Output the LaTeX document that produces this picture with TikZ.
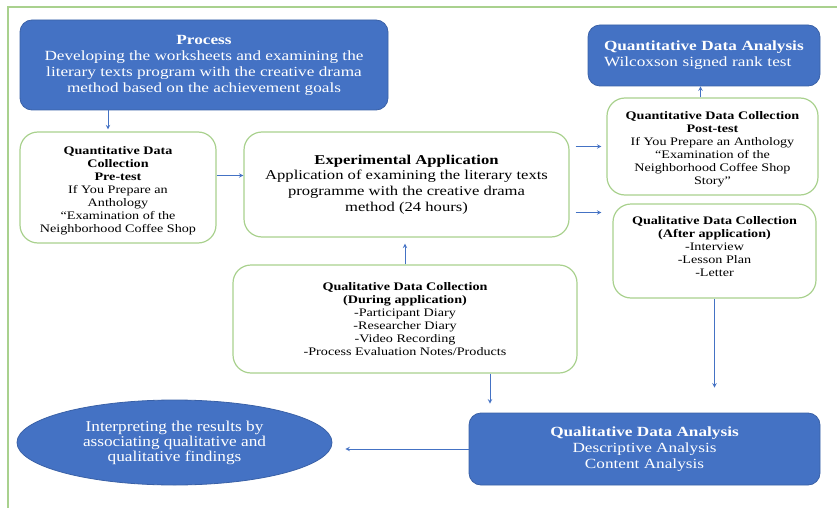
\documentclass[tikz,border=0pt]{standalone}
\usepackage{fontspec}
\setmainfont{Liberation Serif}[FakeStretch=1.23]
\newfontfamily\ovalfont{Liberation Serif}[FakeStretch=1.15]
\usetikzlibrary{shapes.geometric}
\definecolor{boxblue}{HTML}{4472C4}
\definecolor{boxgreen}{HTML}{A9D18E}
\newcommand{\topgap}[1]{\rule{0pt}{#1}}
\tikzset{
  bluebox/.style={draw=boxblue!85!black, fill=boxblue, text=white, rounded corners=12pt,
    align=center, line width=0.8pt, inner sep=0pt},
  greenbox/.style={draw=boxgreen, fill=white, rounded corners=18pt, align=center,
    line width=1.2pt, inner sep=0pt},
  arr/.style={-stealth, boxblue, line width=1pt},
  smalltext/.style={font=\fontsize{11.5}{13}\selectfont},
  largetext/.style={font=\fontsize{14}{16}\selectfont},
}
\begin{document}
\begin{tikzpicture}[x=1pt,y=-1pt]
  \useasboundingbox (0,0) rectangle (837,508);
  % frame
  \draw[boxgreen, line width=1.2pt] (8,508) -- (8,7) -- (837,7);

  \node[bluebox, largetext, minimum width=368pt, minimum height=90pt] (proc) at (204,65)
    {\textbf{Process}\\Developing the worksheets and examining the\\literary texts program with the creative drama\\method based on the achievement goals};
  \node[greenbox, smalltext, minimum width=196pt, minimum height=111pt] (pre) at (118,187.5)
    {\topgap{14pt}\textbf{Quantitative Data}\\\textbf{Collection}\\\textbf{Pre-test}\\If You Prepare an\\Anthology\\“Examination of the\\Neighborhood Coffee Shop};
  \node[greenbox, font=\fontsize{13.5}{15.6}\selectfont, minimum width=325pt, minimum height=105pt] (exp) at (406.5,184.5)
    {\textbf{Experimental Application}\\Application of examining the literary texts\\programme with the creative drama\\method (24 hours)};
  \node[bluebox, largetext, minimum width=232pt, minimum height=61pt, text width=200pt, align=left] (qnta) at (704,55.5)
    {\textbf{Quantitative Data Analysis}\\Wilcoxson signed rank test\\[6pt]};
  \node[greenbox, smalltext, minimum width=211pt, minimum height=97pt] (post) at (712.5,146.5)
    {\topgap{14pt}\textbf{Quantitative Data Collection}\\\textbf{Post-test}\\If You Prepare an Anthology\\“Examination of the\\Neighborhood Coffee Shop\\Story”};
  \node[greenbox, smalltext, minimum width=203pt, minimum height=94pt] (after) at (714.5,251)
    {\textbf{Qualitative Data Collection}\\\textbf{(After application)}\\-Interview\\-Lesson Plan\\-Letter\\[-5pt]};
  \node[greenbox, smalltext, minimum width=344pt, minimum height=108pt] (during) at (405,319)
    {\textbf{Qualitative Data Collection}\\\textbf{(During application)}\\-Participant Diary\\-Researcher Diary\\-Video Recording\\-Process Evaluation Notes/Products};
  \node[bluebox, largetext, minimum width=351pt, minimum height=72pt] (qlta) at (644.5,449)
    {\textbf{Qualitative Data Analysis}\\Descriptive Analysis\\Content Analysis};
  \node[ellipse, draw=boxblue!85!black, fill=boxblue, text=white, line width=0.8pt, inner sep=0pt,
    minimum width=315pt, minimum height=85pt, align=center,
    font=\ovalfont\fontsize{15}{15}\selectfont] (interp) at (174.5,442.5)
    {Interpreting the results by\\associating qualitative and\\qualitative findings};

  % connectors
  \coordinate (procA) at ([xshift=-10pt]pre.north);
  \coordinate (preA) at ([yshift=12pt]pre.east);
  \coordinate (expA) at ([yshift=-28pt]exp.east);
  \coordinate (postA) at ([xshift=-12pt]post.north);
  \coordinate (duringA) at ([xshift=85pt]during.south);
  \path[arr]
    (procA |- proc.south) edge[shorten >=2pt] (procA)
    (preA) edge (preA -| exp.west)
    (exp.east |- post.west) edge[shorten <=6pt, shorten >=5pt] (post.west)
    (expA) edge[shorten <=6pt, shorten >=11pt] (expA -| after.west)
    (postA) edge (postA |- qnta.south)
    (during.north) edge[shorten >=6pt] (during.north |- exp.south)
    (after.south) edge[shorten >=25pt] (after.south |- qlta.north)
    (duringA) edge[shorten >=9pt] (duringA |- qlta.north)
    (qlta.west) edge[shorten >=13pt] (qlta.west -| interp.east);
\end{tikzpicture}
\end{document}
